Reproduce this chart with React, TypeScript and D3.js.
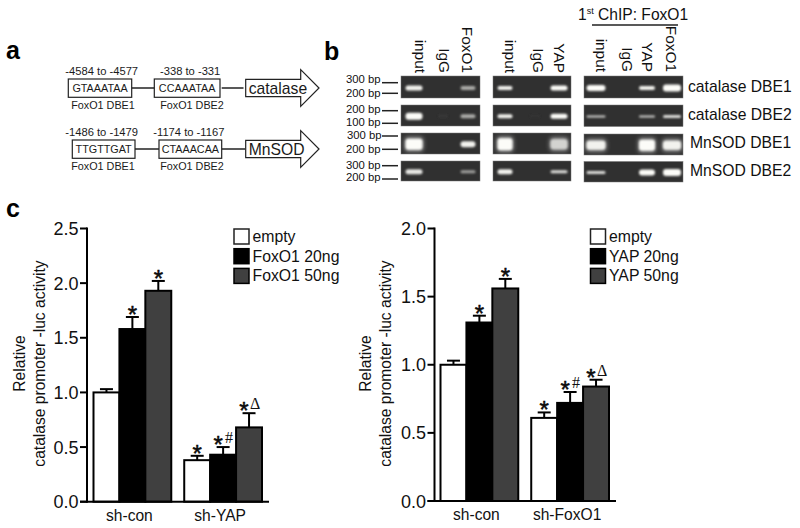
import React from "react";
import * as d3 from "d3";

const FONT = "'Liberation Sans', Arial, sans-serif";

// Panel c
const groupsA = ["sh-con", "sh-YAP"];
const groupsB = ["sh-con", "sh-FoxO1"];
const legendA = ["empty", "FoxO1 20ng", "FoxO1 50ng"];
const legendB = ["empty", "YAP 20ng", "YAP 50ng"];
const ticksA = [0, 0.5, 1, 1.5, 2, 2.5];
const ticksB = [0, 0.5, 1, 1.5, 2];
const valuesA = [[1.0, 1.58, 1.93], [0.38, 0.43, 0.68]];
const errTopA = [[1.03, 1.69, 2.02], [0.42, 0.5, 0.81]];
const valuesB = [[1.0, 1.31, 1.56], [0.61, 0.72, 0.84]];
const errTopB = [[1.03, 1.36, 1.63], [0.65, 0.8, 0.89]];
const marks = [["", "", ""], ["", "#", "Δ"]];

// Panel b: band intensity per row (0 = none) and band thickness
const rowLabels = ["catalase DBE1", "catalase DBE2", "MnSOD DBE1", "MnSOD DBE2"];
const lanes1 = ["input", "IgG", "FoxO1"];
const lanes2 = ["input", "IgG", "YAP"];
const lanes3 = ["input", "IgG", "YAP", "FoxO1"];
const ladderTop = ["300 bp", "200 bp", "300 bp", "300 bp"];
const ladderBottom = ["200 bp", "100 bp", "200 bp", "200 bp"];
const bright1 = [[0.95, 0, 0.6], [1, 0.06, 0.6], [1, 0, 0.95], [0.9, 0, 0.55]];
const bright2 = [[0.95, 0, 1], [0.95, 0.04, 1], [1, 0, 0.8], [0.95, 0, 0.85]];
const bright3 = [[1, 0, 0.95, 1], [0.8, 0, 0.8, 0.85], [0.95, 0, 1, 0.95], [0.85, 0, 1, 1]];
const thick1 = [[5, 0, 4], [7, 2, 4], [11, 0, 6], [5, 0, 3]];
const thick2 = [[4, 0, 5], [4, 2, 5], [12, 0, 10], [5, 0, 3]];
const thick3 = [[6, 0, 4, 7], [2, 0, 2, 3], [9, 0, 11, 9], [3, 0, 6, 7]];

// Panel a
const sitesTop = [
  { range: "-4584 to -4577", seq: "GTAAATAA", name: "FoxO1 DBE1" },
  { range: "-338 to -331", seq: "CCAAATAA", name: "FoxO1 DBE2" },
];
const sitesBottom = [
  { range: "-1486 to -1479", seq: "TTGTTGAT", name: "FoxO1 DBE1" },
  { range: "-1174 to -1167", seq: "CTAAACAA", name: "FoxO1 DBE2" },
];

const fills = ["#ffffff", "#000000", "#404040"];

function BarChart({ groups, legend, ticks, values, errTop, x0, xStart, xEnd, axisEnd, yMax, y0, legendX, labelX }: any) {
  const y = d3.scaleLinear().domain([0, yMax]).range([y0, 228.5]);
  const xg = d3.scaleBand<string>().domain(groups).range([xStart, xEnd]).paddingInner(1 / 7);
  const xs = d3.scaleBand<number>().domain([0, 1, 2]).range([0, xg.bandwidth()]);
  return (
    <g fontFamily={FONT} fill="#111">
      {groups.map((g: string, i: number) =>
        values[i].map((v: number, j: number) => {
          const bx = xg(g)! + xs(j)!;
          const cx = bx + xs.bandwidth() / 2;
          const top = y(errTop[i][j]);
          return (
            <g key={g + j}>
              <line x1={cx} x2={cx} y1={y(v)} y2={top} stroke="#000" strokeWidth={2} />
              <line x1={cx - 6.5} x2={cx + 6.5} y1={top} y2={top} stroke="#000" strokeWidth={2} />
              <rect x={bx} y={y(v)} width={xs.bandwidth()} height={y0 - y(v)} fill={fills[j]} stroke="#000" strokeWidth={2} />
              {(i === 1 || j > 0) && (
                <text x={cx - (marks[i][j] ? 5 : 0)} y={top + 6} textAnchor="middle" fontSize={24} stroke="#000" strokeWidth={0.5}>*</text>
              )}
              {marks[i][j] && (
                <text x={cx + 6} y={top - 4} textAnchor="middle" fontSize={16} fontFamily="'Liberation Serif', serif">{marks[i][j]}</text>
              )}
            </g>
          );
        })
      )}
      <line x1={x0} x2={x0} y1={y(yMax) - 1} y2={y0 + 1} stroke="#000" strokeWidth={2} />
      <line x1={x0 - 7} x2={axisEnd} y1={y0} y2={y0} stroke="#000" strokeWidth={2} />
      {ticks.map((t: number) => (
        <g key={t}>
          <line x1={x0 - 7} x2={x0} y1={y(t)} y2={y(t)} stroke="#000" strokeWidth={2} />
          <text x={x0 - 8.5} y={y(t) + 6.5} textAnchor="end" fontSize={18}>{d3.format(".1f")(t)}</text>
        </g>
      ))}
      {groups.map((g: string) => (
        <text key={g} x={xg(g)! + xg.bandwidth() / 2 - 3} y={y0 + 19} textAnchor="middle" fontSize={15.6}>{g}</text>
      ))}
      <text transform={`translate(${labelX},363.5) rotate(-90)`} textAnchor="middle" fontSize={15.6}>
        <tspan x={0} y={0}>Relative</tspan>
        <tspan x={0} y={20}>catalase promoter -luc activity</tspan>
      </text>
      {legend.map((l: string, i: number) => (
        <g key={l}>
          <rect x={legendX} y={229 + i * 19.7} width={15} height={15} fill={fills[i]} stroke={i === 0 ? "#222" : "#000"} strokeWidth={1.5} />
          <text x={legendX + 18.5} y={242 + i * 19.7} fontSize={15.8}>{l}</text>
        </g>
      ))}
    </g>
  );
}

function Gel({ lanes, centers, bright, thick, x, w, rows, widths }: any) {
  const gray = d3.scaleLinear<string>().domain([0, 1]).range(["#2e2e2e", "#fcfcf8"]);
  return (
    <g>
      {rows.map((r: number[], ri: number) => {
        const cy = r[0] + (r[1] - r[0]) * 0.54;
        return (
          <g key={ri}>
            <rect x={x} y={r[0]} width={w} height={r[1] - r[0]} fill="#303030" stroke="#777" strokeWidth={0.5} />
            <clipPath id={`c${x}${ri}`}><rect x={x} y={r[0]} width={w} height={r[1] - r[0]} /></clipPath>
            <g clipPath={`url(#c${x}${ri})`}>
              {lanes.map((l: string, li: number) =>
                bright[ri][li] > 0 ? (
                  <g key={l}>
                    {thick[ri][li] >= 8 && (
                      <rect x={centers[li] - widths[li] / 2 - 1} y={cy - thick[ri][li] / 2 - 2} width={widths[li] + 2} height={thick[ri][li] + 4} rx={4} fill="#8a8a8a" filter="url(#glow)" />
                    )}
                    <rect x={centers[li] - widths[li] / 2} y={cy - thick[ri][li] / 2} width={widths[li]} height={thick[ri][li]} rx={Math.min(3, thick[ri][li] / 2)} fill={gray(bright[ri][li])} filter="url(#band)" />
                  </g>
                ) : null
              )}
            </g>
          </g>
        );
      })}
    </g>
  );
}

function Site({ s, x, w, y, rangeDx, nameX }: any) {
  return (
    <g fontFamily={FONT} fill="#1a1a1a">
      <text x={x + w / 2 + rangeDx} y={y - 4} textAnchor="middle" fontSize={11.2}>{s.range}</text>
      <rect x={x} y={y} width={w} height={18.3} fill="#fff" stroke="#222" strokeWidth={1.2} />
      <text x={x + w / 2} y={y + 12.6} textAnchor="middle" fontSize={10.8}>{s.seq}</text>
      <text x={nameX} y={y + 30} textAnchor="middle" fontSize={10.8}>{s.name}</text>
    </g>
  );
}

function GeneArrow({ label, cy }: any) {
  const x = 245.7, neck = 300.7, tip = 319;
  const pts: [number, number][] = [[x, cy - 8.7], [neck, cy - 8.7], [neck, cy - 18.3], [tip, cy], [neck, cy + 18.3], [neck, cy + 8.7], [x, cy + 8.7]];
  return (
    <g>
      <path d={d3.line()(pts)! + "Z"} fill="#fff" stroke="#222" strokeWidth={1.2} />
      <text x={x + 3} y={cy + 6} fontFamily={FONT} fontSize={15.7} fill="#1a1a1a">{label}</text>
    </g>
  );
}

export default function App() {
  const rows12 = [[76, 98], [105, 126], [133, 154], [161, 181]];
  const rows3 = [[76, 98], [105, 126.5], [134, 155], [161.5, 182]];
  const c1 = [414, 443, 468], c2 = [505, 535, 559], c3 = [596, 623, 647, 672];
  const laneLabel = (lanes: string[], baselines: number[], bottom: number) =>
    lanes.map((l, i) => (
      <text key={l + baselines[i]} transform={`translate(${baselines[i]},${bottom}) rotate(90)`} textAnchor="end" fontFamily={FONT} fontSize={15.4} fill="#111">{l}</text>
    ));
  return (
    <svg width={800} height={528} viewBox="0 0 800 528" style={{ position: "absolute", left: 0, top: 0, background: "#fff" }}>
      <defs>
        <filter id="band" x="-30%" y="-100%" width="160%" height="300%"><feGaussianBlur stdDeviation="1.1" /></filter>
        <filter id="glow" x="-30%" y="-100%" width="160%" height="300%"><feGaussianBlur stdDeviation="2.2" /></filter>
      </defs>
      <g fontFamily={FONT} fontWeight={700} fontSize={25}>
        <text x={6} y={59}>a</text>
        <text x={324} y={60}>b</text>
        <text x={6} y={217}>c</text>
      </g>

      {/* Panel a */}
      <line x1={131} x2={155} y1={88} y2={88} stroke="#222" strokeWidth={1.5} />
      <line x1={221.7} x2={243.5} y1={88} y2={88} stroke="#222" strokeWidth={1.5} />
      <line x1={135} x2={159} y1={149} y2={149} stroke="#222" strokeWidth={1.5} />
      <line x1={221.7} x2={245} y1={149} y2={149} stroke="#222" strokeWidth={1.5} />
      <Site s={sitesTop[0]} x={68.3} w={63.4} y={79} rangeDx={1.7} nameX={103} />
      <Site s={sitesTop[1]} x={154.3} w={65.7} y={79} rangeDx={3} nameX={192} />
      <Site s={sitesBottom[0]} x={72.3} w={62.7} y={140} rangeDx={-2} nameX={103} />
      <Site s={sitesBottom[1]} x={159} w={62.7} y={140} rangeDx={-1.5} nameX={192} />
      <GeneArrow label="catalase" cy={88} />
      <GeneArrow label="MnSOD" cy={149} />

      {/* Panel b */}
      <Gel lanes={lanes1} centers={c1} bright={bright1} thick={thick1} x={401} w={79} rows={rows12} widths={[17, 10, 15]} />
      <Gel lanes={lanes2} centers={c2} bright={bright2} thick={thick2} x={493} w={78} rows={rows12} widths={[15, 10, 17]} />
      <Gel lanes={lanes3} centers={c3} bright={bright3} thick={thick3} x={584} w={99} rows={rows3} widths={[19, 10, 16, 18]} />
      {laneLabel(lanes1, [415, 439, 462], 73)}
      {laneLabel(lanes2, [505, 533, 554], 73)}
      {laneLabel(lanes3, [596, 622, 642, 666], 72)}
      <text x={578} y={20} fontFamily={FONT} fontSize={15.6} fill="#111">1<tspan fontSize={9} dy={-6}>st</tspan><tspan dy={6}> ChIP: FoxO1</tspan></text>
      <line x1={592} x2={678} y1={25} y2={25} stroke="#222" strokeWidth={1.6} />
      {rowLabels.map((l, i) => (
        <text key={l} x={i < 2 ? 688 : 690} y={[91.7, 120, 148.3, 176][i]} fontFamily={FONT} fontSize={15.7} fill="#111">{l}</text>
      ))}
      {rows12.map((r, i) => (
        <g key={i} fontFamily={FONT} fontSize={11.3} fill="#111">
          <text x={i === 2 ? 347 : 346} y={[83, 113, 139.3, 169.3][i]}>{ladderTop[i]}</text>
          <text x={346} y={[96.7, 125.7, 152.7, 181][i]}>{ladderBottom[i]}</text>
          <line x1={382} x2={398} y1={[82.7, 110.7, 136, 165.7][i]} y2={[82.7, 110.7, 136, 165.7][i]} stroke="#222" strokeWidth={1.5} />
          <line x1={382} x2={398} y1={[93.3, 123.3, 149.3, 179][i]} y2={[93.3, 123.3, 149.3, 179][i]} stroke="#222" strokeWidth={1.5} />
        </g>
      ))}

      {/* Panel c */}
      <BarChart groups={groupsA} legend={legendA} ticks={ticksA} values={valuesA} errTop={errTopA}
        x0={87} xStart={93.5} xEnd={262} axisEnd={269} yMax={2.5} y0={501.7} legendX={234} labelX={25} />
      <BarChart groups={groupsB} legend={legendB} ticks={ticksB} values={valuesB} errTop={errTopB}
        x0={434.5} xStart={440.5} xEnd={609} axisEnd={616} yMax={2} y0={501} legendX={590.5} labelX={371} />
    </svg>
  );
}
